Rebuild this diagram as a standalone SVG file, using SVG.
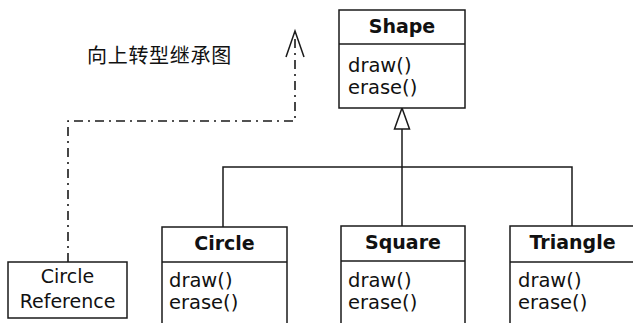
<svg xmlns="http://www.w3.org/2000/svg" width="633" height="323" viewBox="0 0 633 323">
<style>
.box{fill:#fff;stroke:#1a1a1a;stroke-width:1.5}
.ln{fill:none;stroke:#1a1a1a;stroke-width:1.5}
.dd{fill:none;stroke:#1a1a1a;stroke-width:1.6;stroke-dasharray:9 5 2 5}
.nm{font-family:"DejaVu Sans",Verdana,sans-serif;font-weight:bold;font-size:19px;fill:#111;text-anchor:middle}
.mt{font-family:"DejaVu Sans",Verdana,sans-serif;font-size:19.5px;fill:#111}
.rf{font-family:"DejaVu Sans",Verdana,sans-serif;font-size:19px;fill:#111;text-anchor:middle}
.cj{font-family:"Noto Sans CJK SC","Noto Sans CJK JP",sans-serif;font-size:20px;fill:#111;letter-spacing:0.7px}
</style>
<rect width="633" height="323" fill="#fff"/>
<text class="cj" x="87" y="63">向上转型继承图</text>
<g id="connectors">
<polyline class="dd" points="68,262 68,121 295,121 295,32"/>
<polyline class="ln" points="286,57 295,31 304,57"/>
<polyline class="ln" points="223,227 223,167 572,167 572,226"/>
<line class="ln" x1="402" y1="129" x2="402" y2="226"/>
<polygon class="ln" fill="#fff" points="402,108 394.5,129 409.5,129"/>
</g>
<g id="shape">
<rect class="box" x="339" y="10" width="126" height="98"/>
<line class="ln" x1="339" y1="44" x2="465" y2="44"/>
<text class="nm" x="402" y="33">Shape</text>
<text class="mt" x="348" y="72">draw()</text>
<text class="mt" x="348" y="94">erase()</text>
</g>
<g id="circle">
<rect class="box" x="162" y="227" width="125" height="110"/>
<line class="ln" x1="162" y1="262" x2="287" y2="262"/>
<text class="nm" x="224.5" y="250">Circle</text>
<text class="mt" x="169" y="287">draw()</text>
<text class="mt" x="169" y="309">erase()</text>
</g>
<g id="square">
<rect class="box" x="341" y="226" width="124" height="110"/>
<line class="ln" x1="341" y1="261" x2="465" y2="261"/>
<text class="nm" x="403" y="249">Square</text>
<text class="mt" x="348" y="287">draw()</text>
<text class="mt" x="348" y="309">erase()</text>
</g>
<g id="triangle">
<rect class="box" x="510" y="226" width="140" height="110"/>
<line class="ln" x1="510" y1="262" x2="640" y2="262"/>
<text class="nm" x="572.5" y="249">Triangle</text>
<text class="mt" x="518" y="287">draw()</text>
<text class="mt" x="518" y="309">erase()</text>
</g>
<g id="circle-reference">
<rect class="box" x="8" y="262" width="119" height="56"/>
<text class="rf" x="67.5" y="283">Circle</text>
<text class="rf" x="67.5" y="308">Reference</text>
</g>
</svg>
